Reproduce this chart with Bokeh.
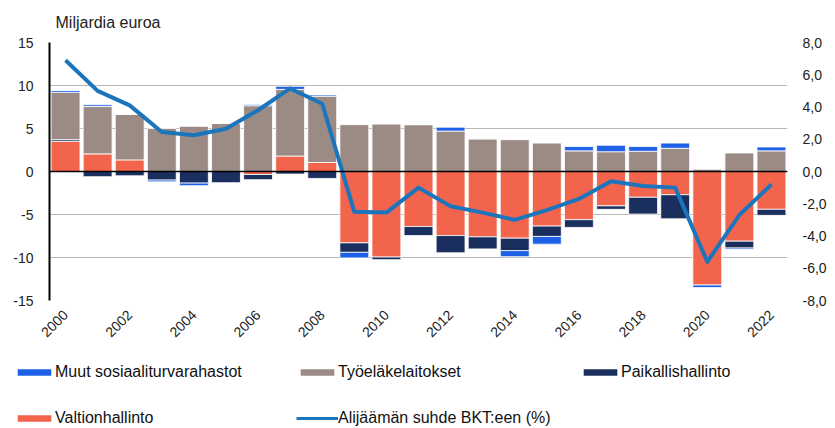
import math
import numpy as np
from bokeh.plotting import figure
from bokeh.layouts import column
from bokeh.models import (Range1d, LinearAxis, FixedTicker, CustomJSTickFormatter,
                          Span, Legend, LegendItem)
from bokeh.embed import file_html
from bokeh.resources import INLINE

years = list(range(2000, 2023))
valtionhallinto = [3.5, 2.05, 1.35, 0.0, 0.0, 0.0, -0.35, 1.8, 1.05, -8.3, -9.95, -6.4,
                   -7.45, -7.6, -7.75, -6.35, -5.6, -4.0, -3.0, -2.7, -13.2, -8.1, -4.4]
paikallishallinto = [0.2, -0.6, -0.5, -1.0, -1.35, -1.3, -0.6, -0.3, -0.8, -1.1, -0.3, -1.05,
                     -2.0, -1.4, -1.45, -1.2, -0.9, -0.4, -1.95, -2.8, 0.0, -0.8, -0.7]
tyoelakelaitokset = [5.5, 5.5, 5.3, 5.0, 5.25, 5.6, 7.65, 7.75, 7.7, 5.45, 5.55, 5.45,
                     4.7, 3.8, 3.7, 3.3, 2.4, 2.3, 2.35, 2.7, 0.25, 2.15, 2.4]
muut_sosiaaliturvarahastot = [0.2, 0.2, 0.0, -0.2, -0.3, 0.0, 0.15, 0.35, 0.15, -0.65, 0.0, 0.0,
                              0.45, 0.0, -0.7, -0.9, 0.5, 0.75, 0.55, 0.6, -0.3, -0.15, 0.45]
alijaama_bkt = [6.9, 5.0, 4.1, 2.45, 2.25, 2.65, 3.8, 5.15, 4.2, -2.5, -2.55, -1.0,
                -2.15, -2.55, -3.0, -2.4, -1.7, -0.6, -0.9, -1.0, -5.6, -2.7, -0.8]
left_ticks = [-15, -10, -5, 0, 5, 10, 15]
right_ticks = [-8, -6, -4, -2, 0, 2, 4, 6, 8]
x_ticks = list(range(2000, 2023, 2))

FONT = "Liberation Sans"
C_VALTIO = "#F2654C"
C_PAIK = "#1B2F5E"
C_TYO = "#9C8B84"
C_MUUT = "#1F61E6"
C_LINE = "#1B75BC"

p = figure(width=835, height=350, output_backend="svg", toolbar_location=None,
           x_range=Range1d(1999.5, 2022.5), y_range=Range1d(-15, 15),
           min_border_left=49, min_border_right=48, min_border_top=42, min_border_bottom=50)
p.frame_align = False
p.outline_line_color = None
p.background_fill_color = "white"
p.border_fill_color = "white"
p.extra_y_ranges = {"pct": Range1d(-8, 8)}

p.title.text = "Miljardia euroa"
p.title.align = "left"
p.title.offset = 6
p.title.standoff = 23
p.title.text_font = FONT
p.title.text_font_size = "16px"
p.title.text_font_style = "normal"
p.title.text_color = "#222222"

series = [("Valtionhallinto", valtionhallinto, C_VALTIO),
          ("Paikallishallinto", paikallishallinto, C_PAIK),
          ("Työeläkelaitokset", tyoelakelaitokset, C_TYO),
          ("Muut sosiaaliturvarahastot", muut_sosiaaliturvarahastot, C_MUUT)]

pos = np.zeros(len(years))
neg = np.zeros(len(years))
for name, vals, color in series:
    v = np.array(vals, dtype=float)
    bottom = np.where(v >= 0, pos, neg)
    top = bottom + v
    pos = np.where(v >= 0, top, pos)
    neg = np.where(v < 0, top, neg)
    p.vbar(x=years, bottom=bottom, top=top, width=0.9, fill_color=color,
           line_color="white", line_width=0.8)

p.line(years, alijaama_bkt, y_range_name="pct", line_color=C_LINE,
       line_width=4, line_join="round")

p.add_layout(Span(location=0, dimension="width", line_color="black", line_width=1.5))

# axes
p.xaxis.ticker = FixedTicker(ticks=x_ticks)
p.xaxis.axis_line_color = None
p.xaxis.major_tick_line_color = None
p.xaxis.minor_tick_line_color = None
p.xaxis.major_tick_out = 0
p.xaxis.major_label_orientation = math.pi / 4
p.xaxis.major_label_standoff = 12
p.xaxis.major_label_text_font = FONT
p.xaxis.major_label_text_font_size = "14px"
p.xaxis.major_label_text_color = "#222222"

p.yaxis.ticker = FixedTicker(ticks=left_ticks)
p.yaxis.formatter = CustomJSTickFormatter(code="return tick.toFixed(0)")
p.yaxis.axis_line_color = "black"
p.yaxis.axis_line_width = 2
p.yaxis.major_tick_line_color = None
p.yaxis.minor_tick_line_color = None
p.yaxis.major_tick_out = 0
p.yaxis.major_label_standoff = 16
p.yaxis.major_label_text_font = FONT
p.yaxis.major_label_text_font_size = "14px"
p.yaxis.major_label_text_color = "#222222"

rax = LinearAxis(y_range_name="pct", ticker=FixedTicker(ticks=right_ticks),
                 formatter=CustomJSTickFormatter(code="return tick.toFixed(1).replace('.', ',')"))
rax.axis_line_color = None
rax.major_tick_line_color = None
rax.minor_tick_line_color = None
rax.major_tick_out = 0
rax.major_label_standoff = 15
rax.major_label_text_font = FONT
rax.major_label_text_font_size = "14px"
rax.major_label_text_color = "#222222"
p.add_layout(rax, "right")

p.xgrid.visible = False
p.ygrid.ticker = FixedTicker(ticks=left_ticks)
p.ygrid.grid_line_color = "#b8b8b8"
p.ygrid.grid_line_width = 1

# legend in its own strip below the chart (proxy glyphs lie outside its view)
q = figure(width=835, height=78, output_backend="svg", toolbar_location=None,
           x_range=Range1d(0, 1), y_range=Range1d(0, 1),
           x_axis_location=None, y_axis_location=None,
           min_border_left=0, min_border_right=0, min_border_top=0, min_border_bottom=0)
q.frame_align = False
q.outline_line_color = None
q.xgrid.visible = False
q.ygrid.visible = False

r_muut = q.vbar(x=[-5], top=[-5], width=0.5, fill_color=C_MUUT, line_color=None)
r_tyo = q.vbar(x=[-5], top=[-5], width=0.5, fill_color=C_TYO, line_color=None)
r_paik = q.vbar(x=[-5], top=[-5], width=0.5, fill_color=C_PAIK, line_color=None)
r_valtio = q.vbar(x=[-5], top=[-5], width=0.5, fill_color=C_VALTIO, line_color=None)
r_line = q.line(x=[-5, -4], y=[-5, -5], line_color=C_LINE, line_width=3)

items = [LegendItem(label="Muut sosiaaliturvarahastot", renderers=[r_muut]),
         LegendItem(label="Työeläkelaitokset", renderers=[r_tyo]),
         LegendItem(label="Paikallishallinto", renderers=[r_paik]),
         LegendItem(label="Valtionhallinto", renderers=[r_valtio]),
         LegendItem(label="Alijäämän suhde BKT:een (%)", renderers=[r_line])]
legend = Legend(items=items, orientation="horizontal", ncols=3, location=(13, 0),
                padding=0, margin=0,
                glyph_width=42, glyph_height=8, label_height=20, label_width=215,
                label_standoff=0, spacing=26, label_text_font=FONT,
                label_text_font_size="16px", label_text_color="#111111",
                background_fill_alpha=0, border_line_color=None)
q.add_layout(legend, "center")

layout = column(p, q, spacing=0)
open("out.html", "w").write(file_html(layout, INLINE))
